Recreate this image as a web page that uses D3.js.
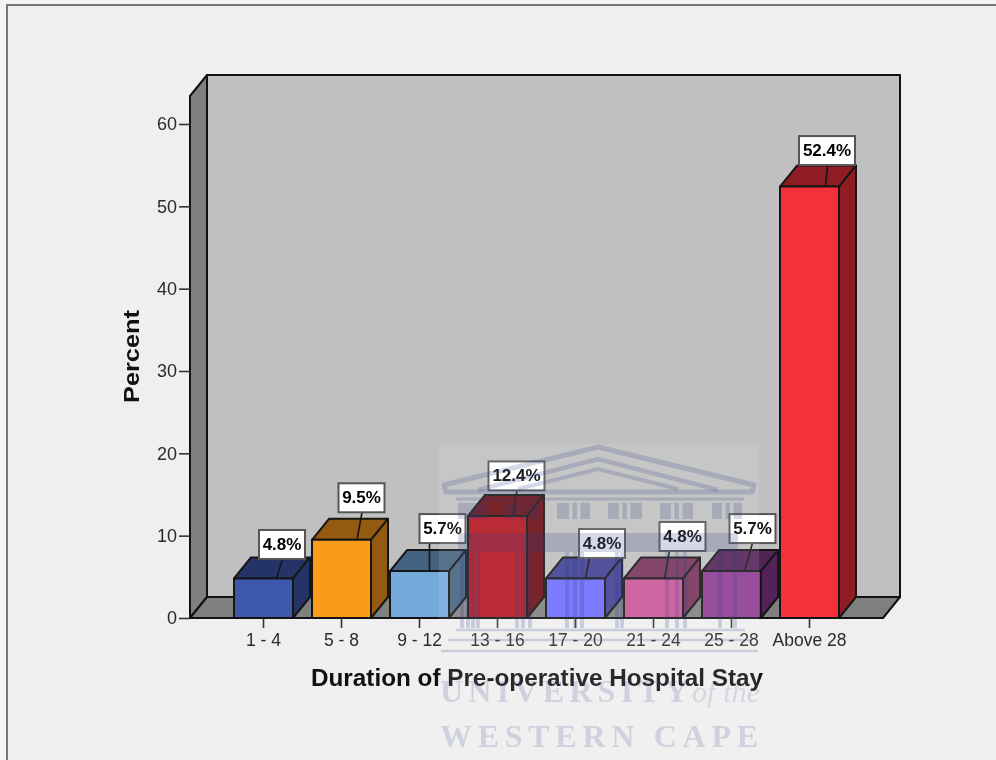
<!DOCTYPE html>
<html>
<head>
<meta charset="utf-8">
<script src="https://cdn.jsdelivr.net/npm/d3@7"></script>
<style>
  html, body { margin: 0; padding: 0; background: #f4f4f4; overflow: hidden; }
  svg { display: block; filter: blur(0.45px); }
  text { font-family: "Liberation Sans", Arial, sans-serif; }
</style>
</head>
<body>
<svg id="chart" width="996" height="760"></svg>
<script>
'use strict';

var categories = ['1 - 4', '5 - 8', '9 - 12', '13 - 16', '17 - 20', '21 - 24', '25 - 28', 'Above 28'];
var percents = [4.8, 9.5, 5.7, 12.4, 4.8, 4.8, 5.7, 52.4];
var yTicks = [0, 10, 20, 30, 40, 50, 60];
var barColors = ['#3e58ae', '#fc9a1a', '#74a9dc', '#b2141f', '#6c6cff', '#cb5599', '#8d3a92', '#f4303a'];

// hand placed callouts, SPSS drags them around: [box dx, gap above bar, leader foot dx, leader head dx]
var calloutNudge = [
  [18.5, 19.5, 13, 19], [20, 27.5, 15.5, 20.5], [23, 28, 10, 10], [19, 25.5, 15.5, 19.5],
  [26.5, 20.5, 10, 14], [29, 27.5, 11, 16], [21, 28, 13, 21], [17.5, 21.5, 16, 18]
];

var svg = d3.select('#chart');
var depthX = 17, depthY = 21;

var x = d3.scaleBand().domain(categories).range([224.5, 848.5]);
var y = d3.scaleLinear().domain([0, 63.4]).range([618, 96]);
var barWidth = 59;
var floorLeft = 190, floorRight = 883;
var wallTop = y.range()[1], base = y.range()[0];

function poly(points) {
  return 'M' + points.map(function(p) { return p.join(','); }).join('L') + 'Z';
}

function shade(color, k) {
  return d3.rgb(color).darker(k).formatHex();
}

// panel
svg.append('rect').attr('x', 7).attr('y', 5).attr('width', 1100).attr('height', 900)
  .attr('fill', '#efefef').attr('stroke', '#777').attr('stroke-width', 2);

// 3d frame
var frame = svg.append('g').attr('stroke', '#111').attr('stroke-width', 2).attr('stroke-linejoin', 'round');
frame.append('path').attr('fill', '#c0c0c0')
  .attr('d', poly([[floorLeft + depthX, wallTop - depthY], [floorRight + depthX, wallTop - depthY], [floorRight + depthX, base - depthY], [floorLeft + depthX, base - depthY]]));
frame.append('path').attr('fill', '#808080')
  .attr('d', poly([[floorLeft, wallTop], [floorLeft + depthX, wallTop - depthY], [floorLeft + depthX, base - depthY], [floorLeft, base]]));
frame.append('path').attr('fill', '#808080')
  .attr('d', poly([[floorLeft, base], [floorLeft + depthX, base - depthY], [floorRight + depthX, base - depthY], [floorRight, base]]));

// bars
var bars = svg.append('g').selectAll('g').data(percents).enter().append('g')
  .attr('stroke', '#161616').attr('stroke-width', 2).attr('stroke-linejoin', 'round');

function barLeft(i) { return x(categories[i]) + (x.bandwidth() - barWidth) / 2; }

bars.append('path').attr('fill', function(d, i) { return shade(barColors[i], 1.5); })
  .attr('d', function(d, i) {
    var l = barLeft(i), t = y(d);
    return poly([[l, t], [l + depthX, t - depthY], [l + barWidth + depthX, t - depthY], [l + barWidth, t]]);
  });
bars.append('path').attr('fill', function(d, i) { return shade(barColors[i], 1.5); })
  .attr('d', function(d, i) {
    var r = barLeft(i) + barWidth, t = y(d);
    return poly([[r, t], [r + depthX, t - depthY], [r + depthX, base - depthY], [r, base]]);
  });
bars.append('rect').attr('fill', function(d, i) { return barColors[i]; })
  .attr('x', function(d, i) { return barLeft(i); })
  .attr('y', function(d) { return y(d); })
  .attr('width', barWidth)
  .attr('height', function(d) { return base - y(d); });

// axes
var yAxis = svg.append('g').attr('transform', 'translate(' + floorLeft + ',0)')
  .call(d3.axisLeft(y).tickValues(yTicks).tickSize(11).tickPadding(2).tickSizeOuter(0));
var xAxis = svg.append('g').attr('transform', 'translate(0,' + base + ')')
  .call(d3.axisBottom(x).tickSize(10).tickPadding(6).tickSizeOuter(0));
yAxis.select('.domain').attr('d', 'M0,' + base + 'V' + wallTop).attr('stroke', '#111').attr('stroke-width', 2);
xAxis.select('.domain').attr('d', 'M' + floorLeft + ',0H' + floorRight).attr('stroke', '#111').attr('stroke-width', 2);
svg.selectAll('.tick line').attr('stroke', '#333').attr('stroke-width', 1.6);
svg.selectAll('.tick text').attr('fill', '#2a2a2a').style('font-size', '17.5px');
yAxis.selectAll('.tick text').style('font-size', '18px');

// axis titles, stretched a bit wide like the pasted original
svg.append('text').attr('x', 537).attr('y', 686).attr('text-anchor', 'middle')
  .attr('fill', '#111').style('font-size', '23px').style('font-weight', 'bold')
  .attr('textLength', 452).attr('lengthAdjust', 'spacingAndGlyphs')
  .text('Duration of Pre-operative Hospital Stay');
svg.append('text').attr('transform', 'translate(139,356.5) rotate(-90)').attr('text-anchor', 'middle')
  .attr('fill', '#111').style('font-size', '22.5px').style('font-weight', 'bold')
  .attr('textLength', 93).attr('lengthAdjust', 'spacingAndGlyphs')
  .text('Percent');

// callouts
var callouts = svg.append('g').selectAll('g').data(percents).enter().append('g');
var boxH = 29;

function boxWidth(d) { return d >= 10 ? 56 : 46; }
function barMid(i) { return x(categories[i]) + x.bandwidth() / 2; }

callouts.append('line')
  .attr('x1', function(d, i) { return barMid(i) + calloutNudge[i][2]; })
  .attr('y1', function(d) { return y(d); })
  .attr('x2', function(d, i) { return barMid(i) + calloutNudge[i][3]; })
  .attr('y2', function(d, i) { return y(d) - calloutNudge[i][1]; })
  .attr('stroke', '#161616').attr('stroke-width', 1.6);
callouts.append('rect')
  .attr('x', function(d, i) { return barMid(i) + calloutNudge[i][0] - boxWidth(d) / 2; })
  .attr('y', function(d, i) { return y(d) - calloutNudge[i][1] - boxH; })
  .attr('width', boxWidth).attr('height', boxH)
  .attr('fill', '#fff').attr('stroke', '#555').attr('stroke-width', 2);
callouts.append('text')
  .attr('x', function(d, i) { return barMid(i) + calloutNudge[i][0]; })
  .attr('y', function(d, i) { return y(d) - calloutNudge[i][1] - 9; })
  .attr('text-anchor', 'middle').attr('fill', '#000')
  .style('font-size', '17px').style('font-weight', 'bold')
  .text(function(d) { return d.toFixed(1) + '%'; });

// university watermark sits on top of everything
var inkColor = '#2e3a86', inkAlpha = 0.2;
var mark = svg.append('g');
mark.append('rect').attr('x', 439).attr('y', 444).attr('width', 320).attr('height', 320)
  .attr('fill', '#fff').attr('fill-opacity', 0.1);
var ink = mark.append('g').attr('fill', 'none').attr('stroke', inkColor).attr('stroke-opacity', inkAlpha);
ink.append('path').attr('stroke-width', 5).attr('stroke-linejoin', 'round')
  .attr('d', 'M598,447L754,485L752,492H446L444,485Z');
ink.append('path').attr('stroke-width', 4.5)
  .attr('d', 'M478,490L598,459L718,490');
ink.append('path').attr('stroke-width', 4)
  .attr('d', 'M518,489L598,469L678,489');
ink.append('path').attr('stroke-width', 3).attr('d', 'M456,499H744');

// light gaps in the frieze, windows and the slits between them
var friezeGaps = [[487, 505], [517, 520.5], [525, 528.5], [539, 557], [569, 572.5], [577, 580.5], [590, 608],
  [619, 622.5], [627, 630.5], [642, 660], [671, 674.5], [679, 682.5], [693, 712], [722, 725.5], [730, 733.5]];
var friezeStart = 458, friezeEnd = 742;
var friezeSolid = friezeGaps.map(function(g, i) {
  return [i ? friezeGaps[i - 1][1] : friezeStart, g[0]];
}).concat([[friezeGaps[friezeGaps.length - 1][1], friezeEnd]]);
mark.selectAll('.frieze').data(friezeSolid).enter().append('rect').attr('class', 'frieze')
  .attr('x', function(d) { return d[0]; })
  .attr('width', function(d) { return d[1] - d[0]; })
  .attr('y', 503).attr('height', 16)
  .attr('fill', inkColor).attr('fill-opacity', inkAlpha);

mark.append('rect').attr('x', 458).attr('y', 533).attr('width', 280).attr('height', 19)
  .attr('fill', inkColor).attr('fill-opacity', inkAlpha);

var columns = [462, 468, 473, 478, 517, 523, 530, 567, 575, 582, 617, 622, 667, 677, 685, 720, 735];
ink.selectAll('.column').data(columns).enter().append('line').attr('class', 'column')
  .attr('x1', function(d) { return d; }).attr('x2', function(d) { return d; })
  .attr('y1', 552).attr('y2', 628).attr('stroke-width', 4);
ink.append('path').attr('stroke-width', 2.5)
  .attr('d', 'M456,630H745M448,640H752M441,651H758');

mark.append('text').attr('x', 440).attr('y', 702).attr('fill', inkColor).attr('fill-opacity', 0.17)
  .style('font-family', '"Liberation Serif", serif').style('font-size', '32px').style('font-weight', 'bold')
  .attr('textLength', 248).text('UNIVERSITY');
mark.append('text').attr('x', 692).attr('y', 702).attr('fill', inkColor).attr('fill-opacity', 0.14)
  .style('font-family', '"Liberation Serif", serif').style('font-size', '30px').style('font-style', 'italic')
  .attr('textLength', 68).text('of the');
mark.append('text').attr('x', 440).attr('y', 747).attr('fill', inkColor).attr('fill-opacity', 0.17)
  .style('font-family', '"Liberation Serif", serif').style('font-size', '32px').style('font-weight', 'bold')
  .attr('textLength', 318).text('WESTERN CAPE');
</script>
</body>
</html>
